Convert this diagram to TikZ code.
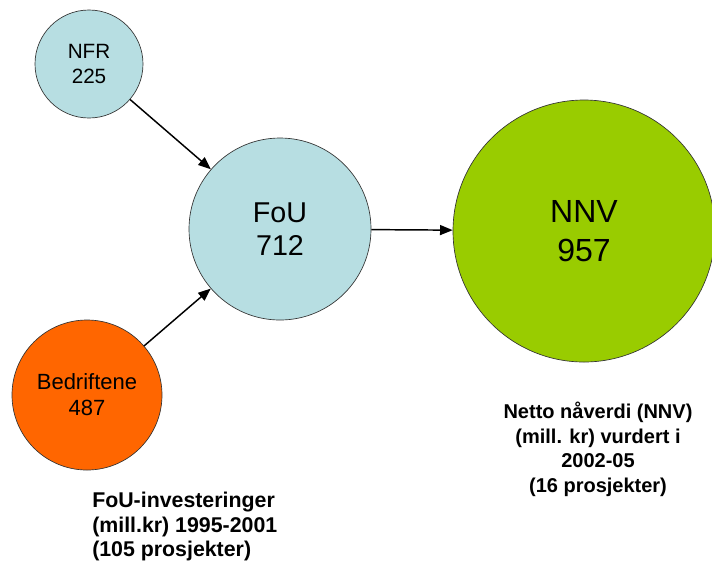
\documentclass[tikz,border=0pt]{standalone}
\usepackage{fontspec}
\setmainfont{Liberation Sans}
\usepackage{tikz}
\usetikzlibrary{arrows.meta, positioning}
\definecolor{lightcyan}{RGB}{183,222,226}
\definecolor{firmorange}{RGB}{255,102,0}
\definecolor{npvgreen}{RGB}{153,204,0}

\begin{document}
\begin{tikzpicture}[x=0.75pt, y=-0.75pt,
    bubble/.style={circle, draw=black!80, line width=0.5pt, inner sep=0pt, align=center},
    flow/.style={-{Triangle[length=9.5pt, width=7.5pt]}, line width=1.1pt},
    caption/.style={font=\bfseries\fontsize{15}{18.4}\selectfont, inner sep=0pt}]
  \useasboundingbox (0,0) rectangle (712,569);
  % sources
  \node[bubble, fill=lightcyan, minimum size=81pt,
        font=\fontsize{15.5}{18.75}\selectfont] (nfr) at (89,64) {NFR\\225};
  \node[bubble, fill=firmorange, minimum size=112.5pt,
        font=\fontsize{16.5}{19.5}\selectfont] (bedr) at (87,395) {Bedriftene\\487};
  % investment
  \node[bubble, fill=lightcyan, minimum size=136.5pt,
        font=\fontsize{21.5}{24.75}\selectfont] (fou) at (280,229) {FoU\\712};
  % result
  \node[bubble, fill=npvgreen, minimum size=196.5pt,
        font=\fontsize{24}{29}\selectfont] (nnv) at (584,231) {NNV\\957};
  % arrows
  \draw[flow] (nfr) -- (fou);
  \draw[flow] (bedr) -- (fou);
  \draw[flow] (fou) -- (nnv);
  % captions
  \node[caption, font=\bfseries\fontsize{16}{18.4}\selectfont,
        anchor=north west, align=left] (foucap) at (92,492)
    {FoU-investeringer\\(mill.kr) 1995-2001\\(105 prosjekter)};
  \node[caption, anchor=north, align=center] (nnvcap) at (598,402)
    {Netto nåverdi (NNV)\\(mill. kr) vurdert i\\2002-05\\(16 prosjekter)};
\end{tikzpicture}
\end{document}
